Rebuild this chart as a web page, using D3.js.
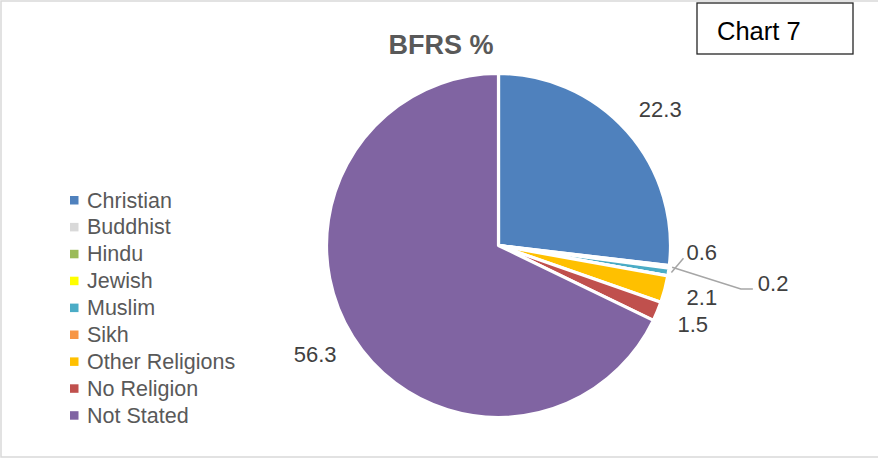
<!DOCTYPE html>
<html>
<head>
<meta charset="utf-8">
<script src="https://cdn.jsdelivr.net/npm/d3@7"></script>
<style>
  html, body { margin: 0; padding: 0; background: #fff; }
  svg { display: block; }
  text { font-family: "Liberation Sans", Arial, sans-serif; }
</style>
</head>
<body>
<svg id="chart" width="878" height="459"></svg>
<script>
// ---- data ----
const categories = ["Christian", "Buddhist", "Hindu", "Jewish", "Muslim", "Sikh", "Other Religions", "No Religion", "Not Stated"];
const values = [22.3, 0.2, 0, 0, 0.6, 0, 2.1, 1.5, 56.3];
const colors = ["#4f81bd", "#d9d9d9", "#9bbb59", "#ffff00", "#4bacc6", "#f79646", "#ffc000", "#c0504d", "#8064a2"];
const title = "BFRS %";
const tag = "Chart 7";
// label nudges for crowded small slices (index -> [dx, dy])
const labelNudge = { 1: [66, 12], 4: [-4.5, -25] };

const W = 878, H = 459;
const svg = d3.select("#chart");

// outer frame
svg.append("rect")
  .attr("x", 1).attr("y", 1).attr("width", W + 4).attr("height", H - 3)
  .attr("fill", "#fff").attr("stroke", "#d9d9d9").attr("stroke-width", 1.5);

// Chart tag box
svg.append("rect")
  .attr("x", 697).attr("y", 3).attr("width", 156).attr("height", 51)
  .attr("fill", "#fff").attr("stroke", "#262626").attr("stroke-width", 1.3);
svg.append("text")
  .attr("x", 717).attr("y", 40)
  .attr("font-size", 25.5).attr("fill", "#000")
  .text(tag);

// title
svg.append("text")
  .attr("x", 441).attr("y", 54)
  .attr("text-anchor", "middle")
  .attr("font-size", 27).attr("font-weight", "bold").attr("fill", "#595959")
  .text(title);

// pie
const cx = 498.5, cy = 245.5, R = 172;
const pie = d3.pie().sort(null).value(d => d);
const arcs = pie(values);
const arc = d3.arc().innerRadius(0).outerRadius(R);
const g = svg.append("g").attr("transform", `translate(${cx},${cy})`);
g.selectAll("path.slice")
  .data(arcs)
  .join("path")
  .attr("class", "slice")
  .attr("d", arc)
  .attr("fill", (d, i) => colors[i])
  .attr("stroke", "#fff")
  .attr("stroke-width", 3.2)
  .attr("stroke-linejoin", "round");

// data labels
const d0 = 23, lh = 20;
arcs.forEach((a, i) => {
  if (a.data <= 0) return;
  const ang = (a.startAngle + a.endAngle) / 2;
  const s = Math.sin(ang), c = Math.cos(ang);
  const t = g.append("text")
    .attr("font-size", 22).attr("fill", "#404040")
    .attr("text-anchor", "middle")
    .attr("dy", "0.35em")
    .text(a.data.toFixed(1));
  const w = t.node().getComputedTextLength();
  let lx = (R + d0) * s + (w / 2) * s;
  let ly = -(R + d0) * c - (lh / 2) * c;
  const nudge = labelNudge[i];
  if (nudge) {
    lx += nudge[0]; ly += nudge[1];
    const rx = (R + 3) * s, ry = -(R + 3) * c;
    const left = lx - w / 2;
    let pts;
    if (nudge[0] > 20) pts = [[rx, ry], [left - 17, ly + 6], [left - 5, ly + 6]];
    else pts = [[rx, ry], [left - 3, ly + 6]];
    g.append("path")
      .attr("d", d3.line()(pts))
      .attr("fill", "none").attr("stroke", "#a6a6a6").attr("stroke-width", 1.5);
  }
  t.attr("x", lx).attr("y", ly);
});

// legend
const legend = svg.append("g").attr("transform", "translate(70,200)");
const rowH = 26.9;
categories.forEach((name, i) => {
  const row = legend.append("g").attr("transform", `translate(0,${i * rowH})`);
  row.append("rect")
    .attr("x", 0).attr("y", -4).attr("width", 8.5).attr("height", 8.5)
    .attr("fill", colors[i]);
  row.append("text")
    .attr("x", 17).attr("y", 0).attr("dy", "0.35em")
    .attr("font-size", 21.5).attr("fill", "#595959")
    .text(name);
});
</script>
</body>
</html>
